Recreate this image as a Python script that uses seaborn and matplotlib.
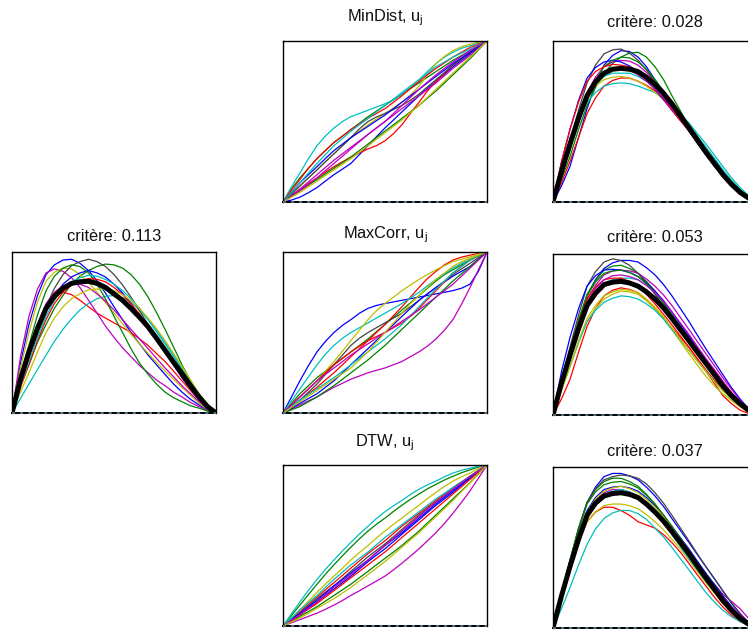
import matplotlib
matplotlib.use("Agg")
import matplotlib.pyplot as plt
import pandas as pd
import seaborn as sns

# ---------------- data ----------------
X = [0, .0417, .083, .125, .167, .208, .25, .292, .333, .375, .417, .458, .5,
     .542, .583, .625, .667, .708, .75, .792, .833, .875, .917, .958, 1.0]

COLORS = ["#0000ff", "#008000", "#ff0000", "#00bfbf", "#bf00bf", "#bfbf00", "#444444",
          "#0000ff", "#008000", "#ff0000", "#00bfbf", "#bf00bf", "#bfbf00"]

# original (unaligned) curves, critère 0.113
ORIG_CURVES = [
    [0, .31, .55, .73, .86, .92, .95, .955, .93, .885, .82, .745, .66, .58, .50, .43, .36, .30, .24, .18, .13, .085, .05, .02, 0],
    [0, .17, .30, .44, .55, .65, .73, .80, .85, .885, .91, .925, .92, .90, .86, .80, .72, .625, .52, .41, .30, .20, .11, .05, 0],
    [0, .23, .40, .55, .66, .725, .75, .735, .70, .66, .62, .59, .56, .53, .50, .46, .42, .37, .32, .26, .20, .14, .08, .035, 0],
    [0, .09, .18, .27, .36, .445, .52, .585, .64, .68, .71, .725, .73, .715, .69, .64, .58, .515, .44, .36, .28, .195, .11, .05, 0],
    [0, .35, .60, .77, .87, .895, .88, .84, .78, .70, .62, .54, .47, .405, .35, .295, .25, .205, .17, .13, .10, .065, .04, .015, 0],
    [0, .28, .50, .69, .82, .875, .90, .895, .86, .81, .75, .685, .62, .555, .49, .43, .37, .315, .26, .21, .16, .11, .06, .025, 0],
    [0, .19, .35, .52, .66, .775, .86, .915, .94, .955, .94, .91, .86, .795, .72, .635, .55, .465, .38, .30, .22, .15, .09, .04, 0],
    [0, .19, .35, .50, .63, .73, .80, .845, .87, .885, .87, .845, .80, .745, .68, .605, .53, .455, .38, .30, .22, .15, .08, .035, 0],
    [0, .23, .42, .61, .76, .85, .90, .92, .91, .87, .80, .71, .60, .50, .40, .31, .24, .18, .13, .095, .07, .045, .03, .012, 0],
    [0, .16, .30, .45, .58, .68, .75, .795, .82, .835, .83, .815, .78, .735, .68, .615, .54, .465, .39, .31, .23, .155, .09, .04, 0],
    [0, .17, .32, .47, .60, .70, .77, .815, .84, .855, .85, .83, .80, .76, .71, .65, .58, .505, .43, .35, .27, .19, .11, .05, 0],
    [0, .22, .40, .55, .68, .75, .79, .805, .80, .78, .74, .695, .64, .58, .52, .46, .40, .34, .28, .225, .17, .12, .07, .03, 0],
    [0, .13, .25, .38, .50, .59, .66, .71, .74, .765, .77, .77, .76, .735, .70, .65, .59, .525, .45, .37, .29, .205, .12, .055, 0],
]
ORIG_MEAN = [0, .21, .38, .525, .65, .725, .775, .805, .815, .818, .805, .78, .74, .70, .65, .595, .535, .465, .39, .315, .245, .17, .10, .04, 0]

# MinDist warping functions and aligned curves (critère 0.028)
MINDIST_WARP = [
    [0, .012, .03, .058, .09, .13, .17, .205, .24, .295, .35, .405, .46, .51, .56, .61, .66, .705, .75, .795, .84, .88, .92, .96, 1],
    [0, .08, .15, .21, .27, .32, .37, .41, .45, .49, .53, .565, .60, .635, .67, .705, .74, .775, .81, .845, .88, .91, .94, .97, 1],
    [0, .04, .08, .115, .15, .185, .22, .25, .28, .305, .33, .35, .38, .425, .48, .55, .62, .69, .75, .80, .85, .89, .93, .965, 1],
    [0, .095, .18, .27, .35, .41, .46, .50, .53, .55, .57, .59, .61, .635, .67, .715, .76, .81, .86, .90, .93, .955, .97, .987, 1],
    [0, .04, .08, .125, .17, .215, .26, .30, .34, .38, .42, .46, .50, .54, .58, .62, .66, .70, .74, .785, .83, .87, .91, .955, 1],
    [0, .05, .10, .15, .20, .25, .30, .35, .40, .44, .48, .515, .55, .585, .62, .665, .72, .79, .86, .905, .94, .965, .98, .993, 1],
    [0, .05, .10, .15, .20, .25, .30, .35, .40, .455, .50, .528, .55, .575, .60, .632, .67, .715, .76, .805, .85, .89, .93, .965, 1],
    [0, .06, .12, .17, .22, .27, .32, .36, .40, .435, .47, .505, .54, .58, .62, .66, .70, .74, .78, .82, .86, .895, .93, .965, 1],
    [0, .035, .07, .105, .14, .175, .21, .245, .28, .32, .36, .40, .44, .48, .52, .56, .60, .645, .69, .74, .79, .84, .89, .945, 1],
    [0, .075, .14, .21, .27, .32, .37, .41, .45, .485, .52, .55, .58, .62, .66, .705, .75, .79, .83, .865, .90, .93, .96, .98, 1],
    [0, .06, .12, .18, .24, .295, .35, .395, .44, .48, .52, .56, .60, .64, .68, .72, .76, .80, .84, .87, .90, .925, .95, .975, 1],
    [0, .035, .07, .11, .15, .195, .24, .285, .33, .375, .42, .46, .50, .55, .60, .65, .70, .745, .79, .83, .87, .905, .94, .97, 1],
    [0, .03, .06, .095, .13, .165, .20, .235, .27, .31, .35, .39, .43, .47, .51, .555, .60, .65, .70, .75, .80, .85, .90, .95, 1],
]
MINDIST_CURVES = [
    [0, .10, .22, .40, .58, .73, .85, .91, .94, .935, .90, .84, .76, .68, .60, .52, .44, .365, .29, .22, .16, .105, .06, .025, 0],
    [0, .14, .28, .45, .60, .71, .80, .86, .90, .925, .93, .90, .84, .76, .66, .565, .47, .38, .30, .225, .16, .105, .06, .025, 0],
    [0, .12, .25, .40, .55, .645, .72, .755, .77, .77, .75, .725, .69, .645, .59, .525, .46, .39, .32, .25, .18, .12, .07, .03, 0],
    [0, .19, .35, .50, .62, .68, .72, .735, .74, .735, .72, .70, .68, .645, .60, .545, .49, .425, .36, .29, .22, .15, .09, .04, 0],
    [0, .19, .36, .53, .68, .775, .84, .87, .88, .875, .85, .805, .75, .68, .60, .525, .45, .375, .30, .225, .16, .105, .06, .025, 0],
    [0, .20, .38, .53, .66, .72, .76, .775, .78, .77, .75, .72, .68, .635, .58, .52, .46, .39, .32, .245, .17, .105, .05, .02, 0],
    [0, .20, .38, .57, .74, .85, .92, .945, .95, .925, .88, .82, .75, .67, .59, .515, .44, .365, .29, .22, .16, .105, .06, .025, 0],
    [0, .25, .45, .63, .77, .835, .87, .88, .87, .845, .81, .76, .70, .635, .57, .505, .44, .37, .30, .235, .17, .11, .06, .025, 0],
    [0, .17, .32, .49, .64, .755, .84, .88, .90, .895, .87, .825, .76, .69, .61, .535, .46, .385, .31, .235, .17, .11, .06, .025, 0],
    [0, .25, .45, .62, .75, .81, .84, .855, .85, .84, .81, .765, .71, .64, .57, .505, .44, .37, .30, .23, .16, .10, .05, .02, 0],
    [0, .18, .33, .50, .64, .725, .78, .80, .80, .80, .78, .75, .71, .665, .61, .545, .48, .41, .34, .27, .20, .135, .08, .03, 0],
    [0, .19, .36, .52, .66, .745, .80, .825, .83, .82, .79, .75, .70, .645, .58, .515, .45, .38, .31, .24, .17, .11, .06, .025, 0],
    [0, .18, .34, .495, .63, .725, .79, .815, .82, .815, .80, .765, .72, .665, .60, .535, .47, .395, .32, .25, .18, .115, .06, .025, 0],
]
MINDIST_MEAN = [0, .19, .36, .52, .66, .745, .80, .825, .83, .825, .81, .775, .73, .675, .61, .535, .46, .385, .31, .24, .17, .11, .06, .025, 0]

# MaxCorr warping functions and aligned curves (critère 0.053)
MAXCORR_WARP = [
    [0, .10, .20, .295, .38, .445, .50, .545, .58, .62, .65, .668, .68, .69, .70, .71, .72, .73, .74, .75, .76, .775, .80, .88, 1],
    [0, .06, .12, .17, .22, .26, .30, .34, .38, .42, .46, .505, .55, .595, .64, .685, .73, .775, .82, .86, .89, .92, .95, .975, 1],
    [0, .04, .08, .12, .16, .205, .25, .30, .35, .40, .45, .50, .55, .605, .66, .72, .78, .835, .88, .92, .95, .968, .98, .992, 1],
    [0, .075, .15, .225, .30, .365, .42, .465, .50, .53, .56, .59, .62, .65, .68, .715, .75, .79, .83, .865, .90, .93, .96, .982, 1],
    [0, .025, .05, .075, .10, .13, .16, .185, .21, .23, .25, .265, .28, .30, .32, .35, .38, .415, .46, .515, .58, .675, .78, .89, 1],
    [0, .05, .10, .15, .20, .26, .32, .385, .45, .515, .58, .635, .68, .72, .76, .795, .83, .86, .89, .915, .94, .955, .97, .986, 1],
    [0, .04, .08, .13, .18, .24, .30, .36, .42, .465, .50, .53, .56, .59, .62, .66, .70, .74, .78, .82, .86, .895, .93, .965, 1],
    [0, .03, .06, .09, .12, .16, .20, .25, .30, .35, .40, .45, .50, .55, .60, .65, .70, .74, .78, .815, .85, .88, .91, .955, 1],
    [0, .02, .04, .07, .10, .135, .17, .21, .25, .29, .33, .375, .42, .47, .52, .57, .62, .67, .72, .77, .82, .865, .91, .955, 1],
    [0, .05, .10, .15, .20, .25, .30, .34, .38, .415, .45, .475, .50, .53, .56, .60, .65, .705, .76, .815, .87, .91, .95, .978, 1],
    [0, .04, .08, .115, .15, .185, .22, .26, .30, .34, .38, .42, .46, .505, .55, .605, .66, .715, .77, .82, .87, .91, .95, .978, 1],
    [0, .05, .10, .15, .20, .24, .28, .32, .36, .395, .43, .465, .50, .535, .57, .605, .64, .68, .72, .76, .80, .85, .90, .95, 1],
    [0, .035, .07, .105, .14, .175, .21, .245, .28, .33, .38, .44, .50, .56, .62, .68, .73, .78, .83, .87, .91, .94, .96, .982, 1],
]
MAXCORR_CURVES = [
    [0, .21, .40, .58, .74, .84, .91, .945, .96, .96, .95, .915, .87, .81, .74, .66, .58, .495, .41, .33, .25, .17, .10, .04, 0],
    [0, .21, .40, .59, .75, .835, .90, .925, .93, .91, .88, .83, .77, .695, .62, .54, .46, .385, .31, .235, .17, .11, .06, .025, 0],
    [0, .10, .22, .39, .55, .66, .74, .775, .79, .78, .76, .715, .66, .60, .54, .48, .42, .345, .27, .195, .12, .07, .03, .01, 0],
    [0, .20, .38, .555, .70, .77, .82, .84, .85, .85, .84, .805, .76, .70, .63, .555, .48, .405, .33, .26, .19, .125, .07, .03, 0],
    [0, .20, .38, .565, .72, .805, .87, .895, .90, .895, .88, .845, .80, .745, .68, .605, .53, .455, .38, .305, .23, .16, .09, .04, 0],
    [0, .16, .30, .45, .58, .66, .72, .75, .77, .765, .75, .71, .66, .60, .53, .455, .38, .31, .24, .18, .13, .09, .05, .02, 0],
    [0, .22, .42, .62, .80, .89, .95, .97, .96, .93, .88, .82, .75, .675, .60, .525, .45, .38, .31, .245, .18, .12, .07, .03, 0],
    [0, .27, .48, .66, .80, .865, .90, .905, .90, .885, .86, .82, .77, .71, .64, .565, .49, .415, .34, .27, .20, .135, .08, .035, 0],
    [0, .21, .40, .58, .74, .825, .88, .895, .90, .885, .86, .815, .76, .695, .62, .545, .47, .395, .32, .25, .18, .12, .07, .03, 0],
    [0, .21, .40, .57, .72, .795, .84, .85, .85, .83, .80, .75, .69, .625, .56, .49, .42, .35, .28, .215, .16, .105, .06, .025, 0],
    [0, .16, .30, .45, .58, .65, .70, .725, .74, .735, .72, .69, .65, .595, .53, .465, .40, .335, .27, .205, .15, .10, .06, .025, 0],
    [0, .20, .38, .555, .70, .785, .84, .865, .87, .86, .84, .805, .76, .705, .64, .57, .50, .425, .35, .28, .21, .14, .08, .03, 0],
    [0, .15, .30, .46, .60, .68, .74, .765, .78, .775, .76, .72, .67, .61, .54, .47, .40, .335, .27, .205, .15, .10, .06, .025, 0],
]
MAXCORR_MEAN = [0, .20, .37, .535, .68, .755, .81, .825, .83, .82, .80, .765, .72, .665, .60, .53, .46, .39, .32, .25, .18, .12, .07, .03, 0]

# DTW warping functions and aligned curves (critère 0.037)
DTW_WARP = [
    [0, .035, .07, .11, .15, .19, .23, .27, .31, .355, .40, .44, .48, .525, .57, .615, .66, .705, .75, .79, .83, .875, .92, .96, 1],
    [0, .066, .13, .196, .26, .322, .38, .437, .49, .542, .59, .632, .67, .712, .75, .787, .82, .852, .88, .907, .93, .952, .97, .987, 1],
    [0, .045, .09, .135, .18, .225, .27, .315, .36, .405, .45, .49, .53, .575, .62, .66, .70, .74, .78, .82, .86, .895, .93, .965, 1],
    [0, .076, .15, .222, .29, .352, .41, .467, .52, .572, .62, .667, .71, .747, .78, .817, .85, .877, .90, .927, .95, .967, .98, .992, 1],
    [0, .02, .04, .06, .08, .104, .13, .159, .19, .219, .25, .279, .31, .349, .39, .434, .48, .529, .58, .638, .70, .768, .84, .918, 1],
    [0, .05, .10, .155, .21, .26, .31, .36, .41, .457, .50, .547, .59, .632, .67, .712, .75, .792, .83, .867, .90, .927, .95, .977, 1],
    [0, .04, .08, .125, .17, .21, .25, .295, .34, .385, .43, .47, .51, .555, .60, .645, .69, .73, .77, .81, .85, .89, .93, .965, 1],
    [0, .04, .08, .12, .16, .205, .25, .29, .33, .37, .41, .455, .50, .54, .58, .625, .67, .715, .76, .80, .84, .88, .92, .96, 1],
    [0, .03, .06, .09, .12, .155, .19, .225, .26, .30, .34, .38, .42, .46, .50, .545, .59, .64, .69, .74, .79, .84, .89, .945, 1],
    [0, .035, .07, .105, .14, .18, .22, .26, .30, .34, .38, .42, .46, .505, .55, .595, .64, .685, .73, .775, .82, .865, .91, .955, 1],
    [0, .05, .10, .145, .19, .24, .29, .335, .38, .42, .46, .505, .55, .59, .63, .67, .71, .75, .79, .825, .86, .895, .93, .965, 1],
    [0, .035, .07, .11, .15, .195, .24, .28, .32, .365, .41, .455, .50, .545, .59, .635, .68, .725, .77, .81, .85, .89, .93, .965, 1],
    [0, .025, .05, .08, .11, .14, .17, .205, .24, .28, .32, .36, .40, .445, .49, .535, .58, .63, .68, .73, .78, .835, .89, .945, 1],
]
DTW_CURVES = [
    [0, .21, .40, .61, .78, .875, .94, .96, .96, .945, .92, .875, .82, .755, .68, .605, .53, .455, .38, .305, .23, .155, .09, .035, 0],
    [0, .22, .42, .62, .78, .86, .91, .93, .93, .91, .88, .83, .77, .70, .63, .55, .47, .395, .32, .25, .18, .12, .07, .03, 0],
    [0, .20, .38, .535, .66, .72, .75, .75, .73, .70, .66, .64, .62, .58, .53, .47, .40, .33, .26, .19, .13, .08, .04, .015, 0],
    [0, .12, .25, .39, .52, .615, .68, .715, .73, .73, .71, .675, .62, .565, .50, .43, .36, .29, .22, .16, .11, .07, .04, .015, 0],
    [0, .20, .38, .565, .72, .795, .84, .86, .86, .845, .82, .78, .73, .67, .60, .53, .46, .395, .33, .27, .21, .165, .12, .06, 0],
    [0, .20, .38, .53, .66, .72, .76, .77, .77, .76, .74, .705, .66, .61, .55, .49, .42, .35, .28, .215, .15, .10, .05, .02, 0],
    [0, .22, .42, .62, .78, .865, .92, .94, .95, .945, .93, .895, .84, .775, .70, .62, .54, .46, .38, .305, .23, .155, .09, .035, 0],
    [0, .21, .40, .58, .73, .81, .86, .875, .88, .87, .85, .81, .76, .70, .63, .56, .49, .415, .34, .27, .20, .135, .08, .03, 0],
    [0, .22, .42, .61, .77, .845, .89, .905, .91, .895, .87, .825, .77, .70, .63, .555, .48, .405, .33, .26, .19, .125, .07, .03, 0],
    [0, .20, .38, .55, .70, .775, .82, .835, .84, .825, .80, .76, .71, .645, .58, .51, .44, .37, .30, .23, .16, .10, .05, .02, 0],
    [0, .19, .36, .545, .70, .78, .83, .85, .86, .845, .82, .775, .72, .65, .58, .505, .43, .36, .29, .225, .16, .105, .06, .025, 0],
    [0, .20, .38, .55, .70, .775, .82, .835, .84, .83, .81, .77, .72, .665, .60, .53, .46, .39, .32, .255, .19, .13, .08, .035, 0],
    [0, .21, .40, .57, .72, .80, .85, .87, .88, .865, .84, .80, .75, .69, .62, .545, .47, .395, .32, .25, .18, .12, .07, .03, 0],
]
DTW_MEAN = [0, .20, .38, .55, .70, .775, .82, .835, .84, .83, .81, .77, .72, .665, .60, .53, .46, .385, .31, .24, .17, .11, .06, .025, 0]

TITLE_ORIG = "critère: 0.113"
TITLES_WARP = ["MinDist, u$_j$", "MaxCorr, u$_j$", "DTW, u$_j$"]
TITLES_CRIT = ["critère: 0.028", "critère: 0.053", "critère: 0.037"]

# ---------------- style ----------------
sns.set_style("white")
plt.rcParams["font.family"] = ["Liberation Sans", "DejaVu Sans"]
plt.rcParams["mathtext.default"] = "regular"
plt.rcParams["lines.scale_dashes"] = False

W, H = 748, 630
fig = plt.figure(figsize=(W / 100, H / 100), dpi=100)


def make_ax(x0, top, w=204, h=161):
    return fig.add_axes([x0 / W, 1 - (top + h) / H, w / W, h / H])


def to_long(curves):
    rows = []
    for i, c in enumerate(curves):
        for x, y in zip(X, c):
            rows.append((i, x, y))
    return pd.DataFrame(rows, columns=["curve", "x", "y"])


def draw(ax, curves, mean=None, title="", pad=8):
    df = to_long(curves)
    sns.lineplot(data=df, x="x", y="y", hue="curve", palette=COLORS[:len(curves)],
                 estimator=None, sort=False, legend=False, linewidth=0.9, ax=ax)
    if mean is not None:
        sns.lineplot(x=X, y=mean, color="black", linewidth=3.6,
                     estimator=None, sort=False, ax=ax)
    ax.set_xlim(0, 1)
    ax.set_ylim(0, 1)
    ax.set_xticks([])
    ax.set_yticks([])
    ax.set_xlabel("")
    ax.set_ylabel("")
    for s in ax.spines.values():
        s.set_color("black")
        s.set_linewidth(1.0)
        s.set_visible(True)
    ax.spines["bottom"].set_linewidth(1.4)
    ax.axhline(0, color="#4f6f7a", linewidth=1.5, dashes=(2.2, 3.6), zorder=5, clip_on=False)
    ax.set_title(title, fontsize=11.8, pad=pad, color="#111111")


ax0 = make_ax(12, 252)
draw(ax0, ORIG_CURVES, ORIG_MEAN, TITLE_ORIG, pad=8)

warps = [MINDIST_WARP, MAXCORR_WARP, DTW_WARP]
aligned = [MINDIST_CURVES, MAXCORR_CURVES, DTW_CURVES]
means = [MINDIST_MEAN, MAXCORR_MEAN, DTW_MEAN]
tops_mid = [41, 252, 465]
tops_right = [41, 254, 467]
pads_warp = [14.4, 10.0, 13.7]
pads_crit = [10.0, 8.6, 8.0]

for k in range(3):
    axw = make_ax(283, tops_mid[k])
    draw(axw, warps[k], None, TITLES_WARP[k], pad=pads_warp[k])
    axa = make_ax(553, tops_right[k])
    draw(axa, aligned[k], means[k], TITLES_CRIT[k], pad=pads_crit[k])

fig.savefig("out.png", dpi=100)
